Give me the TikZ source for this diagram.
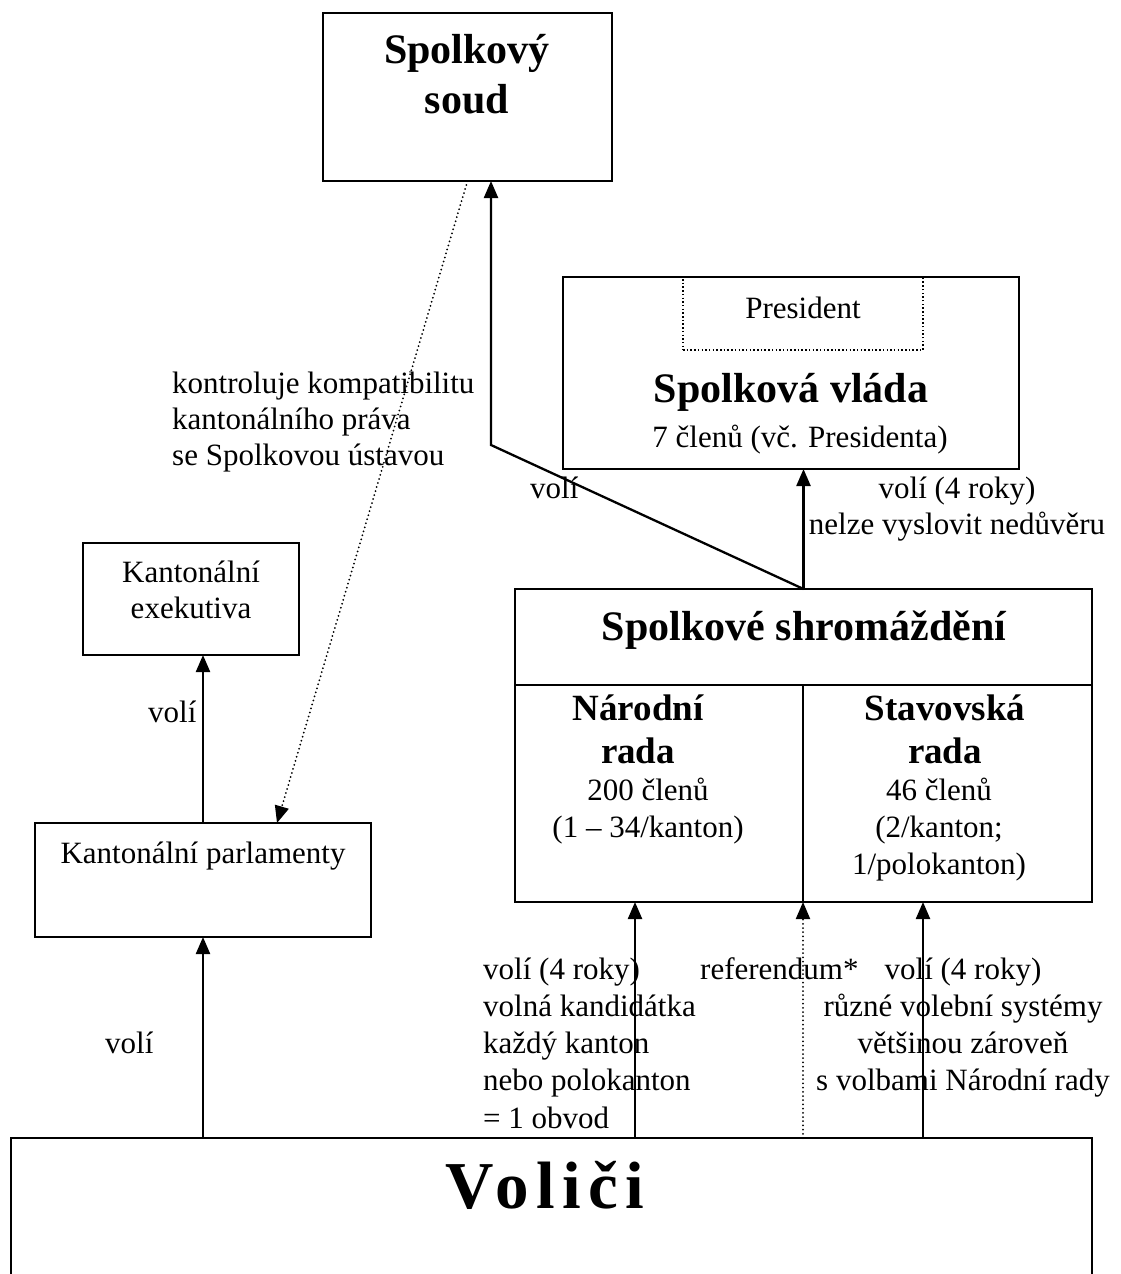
\documentclass[tikz,border=0pt]{standalone}
\usepackage{fontspec}
\setmainfont{Liberation Serif}
\newfontfamily\volfont[LetterSpace=11]{Liberation Serif}
\usetikzlibrary{arrows.meta,calc}
\newcommand\mlines[2]{\begin{tabular}[t]{@{}#1@{}}#2\end{tabular}}
\begin{document}
\begin{tikzpicture}[x=1pt,y=-1pt,
  boxst/.style={draw, line width=1.8pt, inner sep=0pt, outer sep=0pt},
  presbox/.style={draw, line width=1.5pt, dash pattern=on 1.5pt off 2.2pt, inner sep=0pt, outer sep=0pt},
  txt/.style={inner sep=0pt, anchor=base, font=\fontsize{31}{36}\selectfont},
  txtb/.style={inner sep=0pt, anchor=base, font=\fontsize{31}{37.3}\selectfont},
  bigb/.style={inner sep=0pt, anchor=base, font=\fontsize{42}{50}\selectfont\bfseries},
  midb/.style={inner sep=0pt, anchor=base, font=\fontsize{37}{43}\selectfont\bfseries},
  volst/.style={inner sep=0pt, anchor=base, font=\volfont\fontsize{67}{70}\selectfont\bfseries},
  arr/.style={line width=2.3pt, -{Triangle[width=14pt,length=17pt]}},
  dotarr/.style={line width=2pt, line cap=round, dash pattern=on 0pt off 4.2pt, -{Triangle[width=14pt,length=17pt]}}
]
\clip (0,0) rectangle (1120,1274);
\fill[white] (0,0) rectangle (1120,1274);

% boxes
\node[boxst, minimum width=289pt, minimum height=168pt] (soud) at (467.5,97) {};
\node[boxst, minimum width=456pt, minimum height=192pt] (vlada) at (791,373) {};
\node[presbox, minimum width=240pt, minimum height=73pt] (pres) at (803,313.5) {};
\node[boxst, minimum width=216pt, minimum height=112pt] (kexe) at (191,599) {};
\node[boxst, minimum width=336pt, minimum height=114pt] (kpar) at (203,880) {};
\node[boxst, minimum width=577pt, minimum height=313pt] (shrom) at (803.5,745.5) {};
\node[boxst, minimum width=1081pt, minimum height=162pt] (vol) at (551.5,1219) {};

% dividers inside Spolkove shromazdeni
\coordinate (hl) at (515,685);
\coordinate (dv) at (803,685);
\draw[line width=1.8pt] (shrom.west |- hl) -- (shrom.east |- hl);
\draw[line width=1.8pt] (dv) -- (dv |- shrom.south);

% texts
\node[bigb] (tsoud) at (467,63) {\mlines{c}{Spolkový\\soud}};
\node[txt] (tpres) at (803,318) {President};
\node[bigb] (tvlada) at (791,402) {Spolková vláda};
\node[txt] (tclen) at (800,447) {7 členů (vč. Presidenta)};
\node[txt] (tkexe) at (191,582) {\mlines{c}{Kantonální\\exekutiva}};
\node[txt] (tkpar) at (203,863) {Kantonální parlamenty};
\node[bigb] (tshrom) at (804,640) {Spolkové shromáždění};
\node[midb] (tnr) at (638,720) {\mlines{c}{Národní\\rada}};
\node[txtb] (tnr2) at (648,800) {\mlines{c}{200 členů\\(1 – 34/kanton)}};
\node[midb] (tsr) at (945,720) {\mlines{c}{Stavovská\\rada}};
\node[txtb] (tsr2) at (939,800) {\mlines{c}{46 členů\\(2/kanton;\\1/polokanton)}};
\node[txt, anchor=base west] (tkontr) at (172,393) {\mlines{l}{kontroluje kompatibilitu\\kantonálního práva\\se Spolkovou ústavou}};
\node[txt, anchor=base west] (tv1) at (530,498) {volí};
\node[txt] (tv2) at (957,498) {\mlines{c}{volí (4 roky)\\nelze vyslovit nedůvěru}};
\node[txt, anchor=base west] (tv3) at (148,722) {volí};
\node[txt, anchor=base west] (tv4) at (105,1053) {volí};
\node[txtb, anchor=base west] (tv5) at (483,979) {\mlines{l}{volí (4 roky)\\volná kandidátka\\každý kanton\\nebo polokanton\\= 1 obvod}};
\node[txt, anchor=base west] (tref) at (700,979) {referendum*};
\node[txtb] (tv6) at (963,979) {\mlines{c}{volí (4 roky)\\různé volební systémy\\většinou zároveň\\s volbami Národní rady}};
\node[volst] (tvol) at (545,1208) {Voliči};

% connectors
\coordinate (bend) at (491,445);
\draw[arr] (shrom.north) -- (bend) -- (bend |- soud.south);
\draw[arr] (shrom.north) -- (shrom.north |- vlada.south);
\coordinate (kpin) at (277,823);
\draw[dotarr] (soud.south) -- (kpin);
\draw[arr] (kpar.north) -- (kpar.north |- kexe.south);
\draw[arr] (vol.north -| kpar.south) -- (kpar.south);
\coordinate (xa) at (635,0);
\coordinate (xb) at (923,0);
\draw[arr] (vol.north -| xa) -- (shrom.south -| xa);
\draw[dotarr] (vol.north -| dv) -- (shrom.south -| dv);
\draw[arr] (vol.north -| xb) -- (shrom.south -| xb);
\end{tikzpicture}
\end{document}
